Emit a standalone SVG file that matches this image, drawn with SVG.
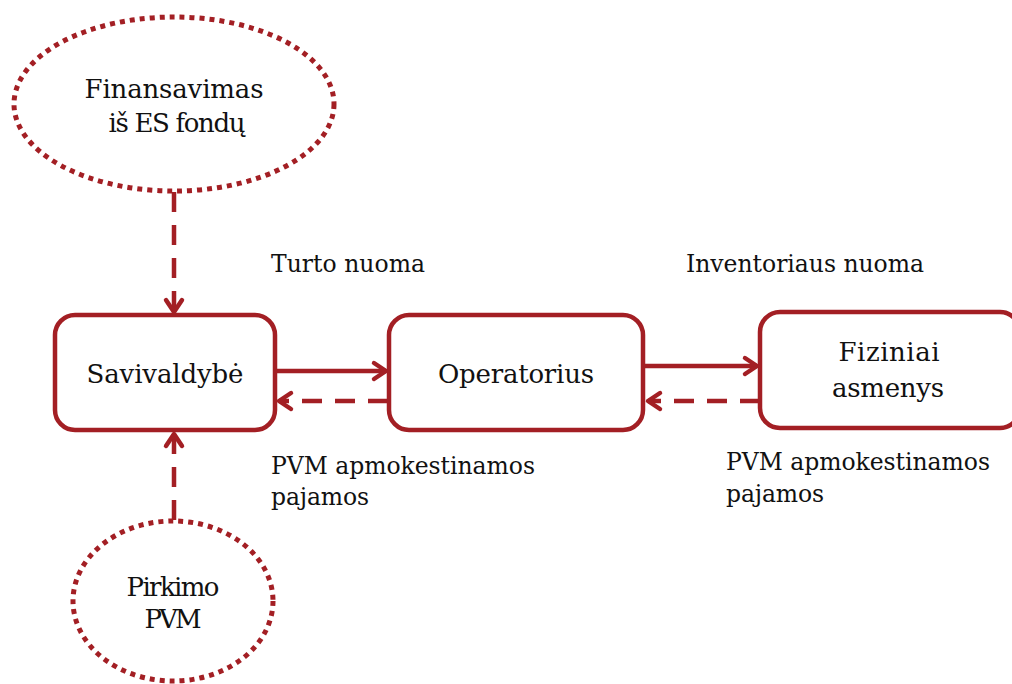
<svg xmlns="http://www.w3.org/2000/svg" width="1012" height="684" viewBox="0 0 1012 684">
<defs>
<style>
.box{fill:#fff;stroke:#A31F24;stroke-width:4.5}
.ell{fill:#fff;stroke:#A31F24;stroke-width:5;stroke-dasharray:5 5}
.con{fill:none;stroke:#A31F24;stroke-width:4.5}
.dash{stroke-dasharray:20 13}
.t{font-family:"DejaVu Serif","Liberation Serif",serif;fill:#111}
.n{font-size:26px;text-anchor:middle}
.l{font-size:23.5px}
</style>
<marker id="ah" markerUnits="userSpaceOnUse" viewBox="0 0 16 20" refX="14" refY="10" markerWidth="16" markerHeight="20" orient="auto" overflow="visible">
<path d="M2,2 L14,10 L2,18" fill="none" stroke="#A31F24" stroke-width="4.5" stroke-linecap="round" stroke-linejoin="round"/>
</marker>
</defs>
<g id="connectors">
<line class="con dash" x1="174" y1="192" x2="174" y2="312" marker-end="url(#ah)"/>
<line class="con dash" x1="174" y1="520" x2="174" y2="434" marker-end="url(#ah)"/>
<line class="con" x1="276" y1="371" x2="386" y2="371" marker-end="url(#ah)"/>
<line class="con dash" x1="388" y1="401" x2="279" y2="401" marker-end="url(#ah)"/>
<line class="con" x1="644" y1="366" x2="757" y2="366" marker-end="url(#ah)"/>
<line class="con dash" x1="760" y1="401" x2="648" y2="401" marker-end="url(#ah)"/>
</g>
<g id="label-turto"><text class="t l" x="271" y="272" textLength="154">Turto nuoma</text></g>
<g id="label-inventoriaus"><text class="t l" x="686" y="272" textLength="238">Inventoriaus nuoma</text></g>
<g id="label-pvm1"><text class="t l" x="271" y="474" textLength="264">PVM apmokestinamos</text><text class="t l" x="271" y="505" textLength="98">pajamos</text></g>
<g id="label-pvm2"><text class="t l" x="726" y="470" textLength="264">PVM apmokestinamos</text><text class="t l" x="726" y="502" textLength="98">pajamos</text></g>
<g id="finansavimas">
<ellipse class="ell" cx="174" cy="104" rx="160" ry="87"/>
<text class="t n" x="174" y="98" textLength="179">Finansavimas</text>
<text class="t n" x="177" y="132" textLength="137">iš ES fondų</text>
</g>
<g id="pirkimo">
<ellipse class="ell" cx="173" cy="601" rx="100" ry="80"/>
<text class="t n" x="173" y="596" textLength="93">Pirkimo</text>
<text class="t n" x="173" y="628" textLength="57">PVM</text>
</g>
<g id="savivaldybe">
<rect class="box" x="55" y="315" width="220" height="115" rx="20"/>
<text class="t n" x="165" y="383" textLength="157">Savivaldybė</text>
</g>
<g id="operatorius">
<rect class="box" x="389" y="315" width="254" height="115" rx="20"/>
<text class="t n" x="516" y="383" textLength="156">Operatorius</text>
</g>
<g id="fiziniai">
<rect class="box" x="760" y="312" width="260" height="116" rx="20"/>
<text class="t n" x="889" y="361" textLength="101">Fiziniai</text>
<text class="t n" x="888" y="397" textLength="112">asmenys</text>
</g>
</svg>
